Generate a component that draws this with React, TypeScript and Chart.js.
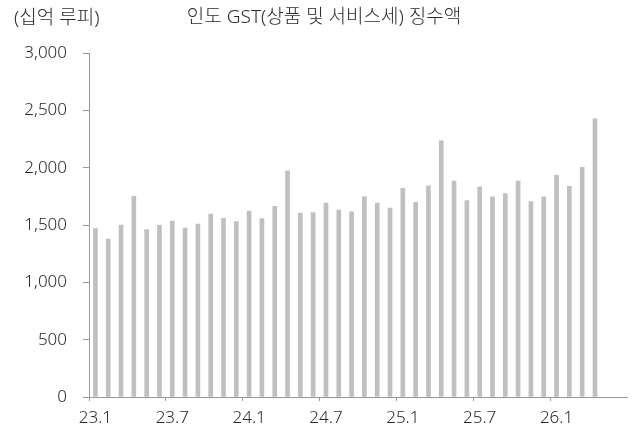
import React, { useEffect, useRef } from "react";
import { Chart, registerables } from "chart.js";

Chart.register(...registerables);

const labels = [
  "23.1","23.2","23.3","23.4","23.5","23.6","23.7","23.8","23.9","23.10","23.11","23.12",
  "24.1","24.2","24.3","24.4","24.5","24.6","24.7","24.8","24.9","24.10","24.11","24.12",
  "25.1","25.2","25.3","25.4","25.5","25.6","25.7","25.8","25.9","25.10","25.11","25.12",
  "26.1","26.2","26.3","26.4","26.5","26.6",
];

const gstValues = [
  1468, 1378, 1500, 1751, 1459, 1497, 1535, 1474, 1509, 1596, 1558, 1529,
  1622, 1555, 1663, 1972, 1605, 1608, 1692, 1631, 1614, 1747, 1692, 1648,
  1820, 1698, 1841, 2234, 1884, 1712, 1832, 1745, 1774, 1884, 1704, 1745,
  1934, 1838, 2004, 2426, null, null,
];

const titleText = "인도 GST(상품 및 서비스세) 징수액";
const unitText = "(십억 루피)";

const FONT = "'Noto Sans', 'Noto Sans CJK KR', sans-serif";
const TEXT_COLOR = "#2a2a2a";
const AXIS_COLOR = "#999999";

export default function App() {
  const ref = useRef<HTMLCanvasElement | null>(null);

  useEffect(() => {
    if (!ref.current) return;
    const textPlugin = {
      id: "texts",
      afterDraw(chart: any) {
        const ctx = chart.ctx;
        ctx.save();
        ctx.fillStyle = TEXT_COLOR;
        ctx.textBaseline = "middle";
        ctx.font = `300 19px ${FONT}`;
        ctx.textAlign = "left";
        ctx.fillText(unitText, 14, 19);
        ctx.textAlign = "center";
        ctx.fillText(titleText, 324, 18);
        ctx.restore();
      },
    };
    const chart = new Chart(ref.current, {
      type: "bar",
      data: {
        labels,
        datasets: [
          {
            data: gstValues as any,
            backgroundColor: "#c0c0c0",
            barThickness: 4,
          },
        ],
      },
      options: {
        animation: false,
        responsive: false,
        maintainAspectRatio: false,
        layout: { padding: { top: 53, right: 5, left: 0, bottom: 0 } },
        plugins: {
          legend: { display: false },
          title: { display: false },
          tooltip: { enabled: false },
        },
        scales: {
          x: {
            offset: true,
            grid: {
              offset: true,
              drawOnChartArea: false,
              tickLength: 4,
              tickColor: (c: any) => (c.index % 6 === 0 ? AXIS_COLOR : "transparent"),
            },
            border: { color: AXIS_COLOR, width: 1 },
            ticks: {
              autoSkip: false,
              maxRotation: 0,
              minRotation: 0,
              padding: 7,
              color: TEXT_COLOR,
              font: { family: FONT, size: 17, weight: "300" as any },
              callback: (_v: any, i: number) => (i % 6 === 0 ? labels[i] : ""),
            },
            afterFit: (s: any) => {
              s.height = 35;
            },
          },
          y: {
            min: 0,
            max: 3000,
            grid: {
              drawOnChartArea: false,
              tickLength: 6,
              color: AXIS_COLOR,
            },
            border: { color: AXIS_COLOR, width: 1 },
            ticks: {
              stepSize: 500,
              padding: 16,
              color: TEXT_COLOR,
              font: { family: FONT, size: 17, weight: "300" as any },
              callback: (v: any) => Number(v).toLocaleString("en-US"),
            },
            afterFit: (s: any) => {
              s.width = 89;
            },
          },
        },
      },
      plugins: [textPlugin],
    });
    return () => chart.destroy();
  }, []);

  return (
    <div style={{ position: "fixed", left: 0, top: 0, width: 632, height: 432, background: "#fff" }}>
      <canvas ref={ref} width={632} height={432} style={{ width: 632, height: 432 }} />
    </div>
  );
}
